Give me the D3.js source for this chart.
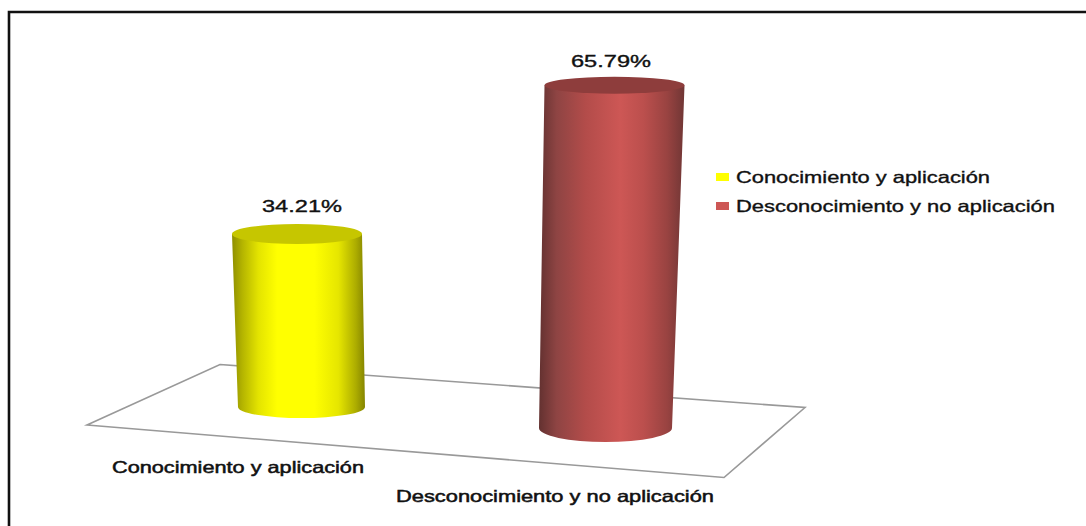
<!DOCTYPE html>
<html><head><meta charset="utf-8">
<script src="https://cdn.jsdelivr.net/npm/d3@7"></script>
<style>html,body{margin:0;padding:0;background:#fff;overflow:hidden}svg{display:block}
text{font-family:"Liberation Sans",Arial,sans-serif;fill:#111;stroke:#111;stroke-width:.35px}</style>
</head><body><svg id="c" width="1086" height="526"></svg>
<script>
const categories = ["Conocimiento y aplicación", "Desconocimiento y no aplicación"];
const values = [34.21, 65.79];
const valueLabels = ["34.21%", "65.79%"];
const colors = ["#ffff00", "#cd5755"];

const svg = d3.select("#c");

// perspective of the floor: each category sits at a different depth
const baseX = d3.scalePoint().domain(categories).range([301.5, 605.5]);
const baseY = d3.scalePoint().domain(categories).range([407, 428]);
const depth = d3.scalePoint().domain(categories).range([0.971, 1]);
const lean = d3.scalePoint().domain(categories).range([-4.5, 9]);
const baseRx = d3.scalePoint().domain(categories).range([63.5, 66.5]);
const topRx = d3.scalePoint().domain(categories).range([65, 70]);
const baseRy = d3.scalePoint().domain(categories).range([11, 14]);
const topRy = d3.scalePoint().domain(categories).range([10, 8.5]);
const h = d3.scaleLinear().domain([0, 100]).range([0, 521]);

// frame
svg.append("path").attr("d", "M1086,12H9V526").attr("fill", "none").attr("stroke", "#111").attr("stroke-width", 2.6);

// floor
svg.append("path").attr("d", d3.line()([[220, 364.5], [805, 407.5], [724, 477.5], [87, 425]]) + "Z")
  .attr("fill", "#fff").attr("stroke", "#999").attr("stroke-width", 1.6).attr("stroke-linejoin", "miter");

const defs = svg.append("defs");
const shade = [
  [[0, "#8f8f00"], [.08, "#b5b500"], [.2, "#e4e400"], [.34, "#ffff00"], [.62, "#ffff00"], [.8, "#e6e600"], [.93, "#adad00"], [1, "#858500"]],
  [[0, "#633130"], [.12, "#8e4443"], [.32, "#b34c4a"], [.56, "#cd5755"], [.72, "#bb4f4d"], [.88, "#994341"], [1, "#703635"]]
];
const lids = ["#c6c600", "#8e3d3c"];
shade.forEach((stops, i) => {
  const g = defs.append("linearGradient").attr("id", "g" + i);
  stops.forEach(s => g.append("stop").attr("offset", s[0]).attr("stop-color", s[1]));
});

const bars = svg.selectAll("g.bar").data(categories).join("g").attr("class", "bar");
bars.each(function (c, i) {
  const g = d3.select(this);
  const bx = baseX(c), by = baseY(c), tx = bx + lean(c), ty = by - h(values[i]) * depth(c);
  const br = baseRx(c), tr = topRx(c), bry = baseRy(c), tRy = topRy(c);
  g.append("path")
    .attr("d", `M${tx - tr},${ty}L${bx - br},${by}A${br},${bry} 0 0 0 ${bx + br},${by}L${tx + tr},${ty}Z`)
    .attr("fill", `url(#g${i})`);
  g.append("ellipse").attr("cx", tx).attr("cy", ty).attr("rx", tr).attr("ry", tRy).attr("fill", lids[i]);
  g.append("text").attr("x", tx + (i ? -3.5 : 5)).attr("y", ty - (i ? 18 : 22))
    .attr("text-anchor", "middle").attr("font-size", 16.5)
    .attr("textLength", 80).attr("lengthAdjust", "spacingAndGlyphs").text(valueLabels[i]);
});

// category labels
const catX = [112, 396], catY = [473, 502], catW = [252, 318];
categories.forEach((c, i) => {
  svg.append("text").attr("x", catX[i]).attr("y", catY[i]).attr("font-size", 16.5)
    .attr("textLength", catW[i]).attr("lengthAdjust", "spacingAndGlyphs").style("stroke-width", ".5px").text(c);
});

// legend
const legY = d3.scalePoint().domain(categories).range([177, 206]);
categories.forEach((c, i) => {
  const y = legY(c);
  svg.append("rect").attr("x", 716).attr("y", y - 4).attr("width", 13).attr("height", 8).attr("fill", colors[i]);
  svg.append("text").attr("x", 736).attr("y", y + 5.5).attr("font-size", 16.5)
    .attr("textLength", i ? 319 : 254).attr("lengthAdjust", "spacingAndGlyphs").text(c);
});
</script></body></html>
